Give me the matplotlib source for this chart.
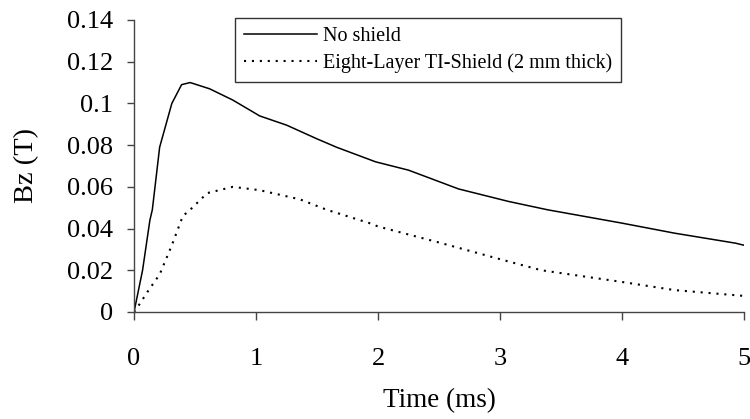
import numpy as np
import matplotlib
matplotlib.use("Agg")
import matplotlib.pyplot as plt
from matplotlib.ticker import FuncFormatter

plt.rcParams['font.family'] = ['Liberation Serif', 'DejaVu Serif']

# data
t_no = [0, 0.07, 0.13, 0.15, 0.21, 0.31, 0.39, 0.46, 0.62, 0.81, 1.03, 1.25,
        1.5, 1.66, 1.98, 2.25, 2.66, 3.07, 3.39, 4.0, 4.43, 4.93, 5.0]
bz_no = [0, 0.020, 0.044, 0.049, 0.079, 0.100, 0.109, 0.110, 0.107, 0.1016,
         0.094, 0.0896, 0.083, 0.079, 0.072, 0.068, 0.059, 0.053, 0.049,
         0.0426, 0.0378, 0.033, 0.032]

t_sh = [0, 0.03, 0.12, 0.21, 0.31, 0.40, 0.46, 0.6, 0.81, 1.03, 1.36, 1.58,
        1.93, 2.0, 2.52, 3.02, 3.34, 4.0, 4.43, 5.0]
bz_sh = [0, 0.0024, 0.0105, 0.018, 0.032, 0.046, 0.049, 0.057, 0.060, 0.0584,
         0.054, 0.049, 0.0426, 0.041, 0.033, 0.025, 0.020, 0.0144, 0.0105, 0.0077]

labels = ['No shield', 'Eight-Layer TI-Shield (2 mm thick)']

fig = plt.figure(figsize=(7.5, 4.19), dpi=100)
ax = fig.add_axes([0.1787, 0.2554, 0.8133, 0.6969])

ax.plot(t_no, bz_no, color='black', lw=1.1, label=labels[0])
ax.plot(t_sh, bz_sh, color='black', lw=1.5, linestyle=(0, (1, 2.8)), label=labels[1])

ax.set_xlim(0, 5)
ax.set_ylim(0, 0.14)
ax.set_xticks(np.arange(0, 6, 1))
ax.set_yticks(np.arange(0, 0.141, 0.02))
ax.yaxis.set_major_formatter(FuncFormatter(lambda v, p: '%g' % round(v, 2)))

for s in ['top', 'right']:
    ax.spines[s].set_visible(False)
for s in ['left', 'bottom']:
    ax.spines[s].set_color('#444444')
    ax.spines[s].set_linewidth(1.0)

ax.tick_params(axis='y', direction='out', length=5, width=1, pad=10,
               labelsize=19, color='#444444')
ax.tick_params(axis='x', direction='out', length=6, width=1, pad=20,
               labelsize=19, color='#444444')

ax.set_xlabel('Time (ms)', fontsize=19.5, labelpad=13)
ax.set_ylabel('Bz (T)', fontsize=20.5, labelpad=20)

leg = ax.legend(loc='upper left', bbox_to_anchor=(0.1656, 1.007), borderaxespad=0,
                fontsize=14.5, frameon=True, fancybox=False, shadow=False,
                handlelength=3.6, handletextpad=0.3, labelspacing=0.35,
                borderpad=0.45)
leg.get_frame().set_edgecolor('black')
leg.get_frame().set_linewidth(1.0)

fig.savefig('out.png', dpi=100)
